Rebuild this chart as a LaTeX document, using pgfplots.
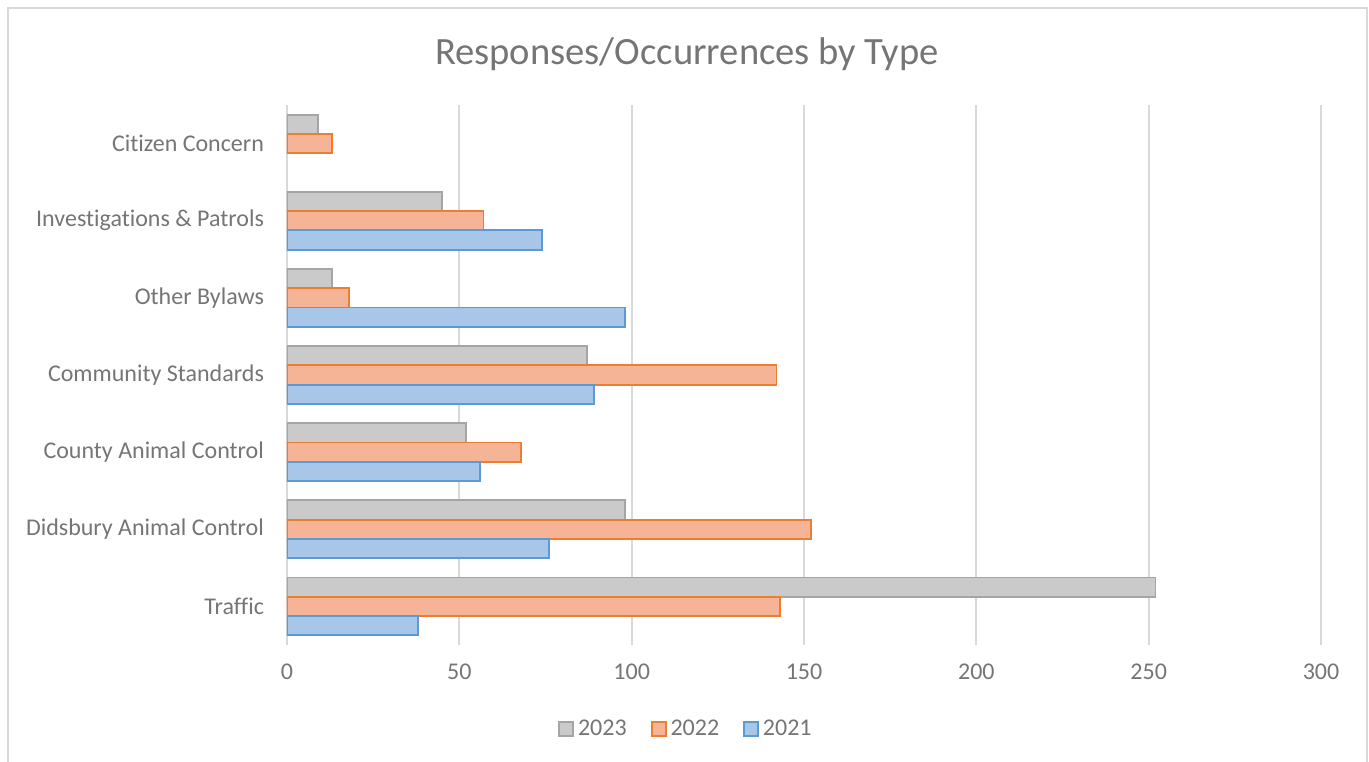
\documentclass[border=0pt]{standalone}
\usepackage{pgfplots}
\pgfplotsset{compat=1.18}
\usepackage{fontspec}
\setmainfont{Carlito}[Ligatures=NoCommon]
\definecolor{txt}{HTML}{757575}
\definecolor{ttl}{HTML}{757575}
\definecolor{gridc}{HTML}{D9D9D9}
\definecolor{frame}{HTML}{D9D9D9}
\definecolor{grayb}{HTML}{A5A5A5}
\definecolor{grayf}{HTML}{CACACA}
\definecolor{orab}{HTML}{ED7D31}
\definecolor{oraf}{HTML}{F5B496}
\definecolor{blub}{HTML}{5B9BD5}
\definecolor{bluf}{HTML}{A8C6E8}
\begin{document}
\begin{tikzpicture}
\useasboundingbox (-143.5pt,-58pt) rectangle (541pt,322.5pt);
\draw[color=frame, line width=1pt] (-139.5pt,-70pt) -- (-139.5pt,318.5pt) -- (540pt,318.5pt) -- (540pt,-70pt);
\node[text=ttl, font=\fontsize{19.3}{21}\selectfont] at (200pt,295.5pt) {Responses/Occurrences by Type};
\begin{axis}[
  at={(0,0)}, anchor=south west,
  scale only axis, width=517pt, height=270pt,
  xbar, bar width=0.25,
  xmin=0, xmax=300, ymin=-0.5, ymax=6.5,
  ytick={0,1,2,3,4,5,6},
  yticklabels={Traffic, Didsbury Animal Control, County Animal Control, Community Standards, Other Bylaws, Investigations \& Patrols, Citizen Concern},
  xtick={0,50,100,150,200,250,300},
  xmajorgrids, grid style={color=gridc, line width=1pt},
  axis lines=left,
  x axis line style={draw=none},
  y axis line style={draw=gridc, line width=1pt, -},
  major tick length=0pt,
  tick label style={text=txt, font=\fontsize{12}{14}\selectfont},
  /pgf/number format/assume math mode=true,
  yticklabel style={xshift=-8pt},
  xticklabel style={yshift=-6pt},
  legend columns=3,
  legend style={draw=none, fill=none, at={(0.3868,-0.1556)}, anchor=center,
    font=\fontsize{12}{14}\selectfont, text=txt,
    /tikz/every even column/.append style={column sep=10pt}},
  legend image code/.code={\draw[#1, line width=0.9pt] (0pt,-3.5pt) rectangle (7pt,3.5pt);},
]
\addplot[bar shift=0.25, draw=grayb, line width=0.9pt, fill=grayf]
  coordinates {(252,0) (98,1) (52,2) (87,3) (13,4) (45,5) (9,6)};
\addplot[bar shift=0, draw=orab, line width=0.9pt, fill=oraf]
  coordinates {(143,0) (152,1) (68,2) (142,3) (18,4) (57,5) (13,6)};
\addplot[bar shift=-0.25, draw=blub, line width=0.9pt, fill=bluf]
  coordinates {(38,0) (76,1) (56,2) (89,3) (98,4) (74,5)};
\legend{2023,2022,2021}
\end{axis}
\end{tikzpicture}
\end{document}
